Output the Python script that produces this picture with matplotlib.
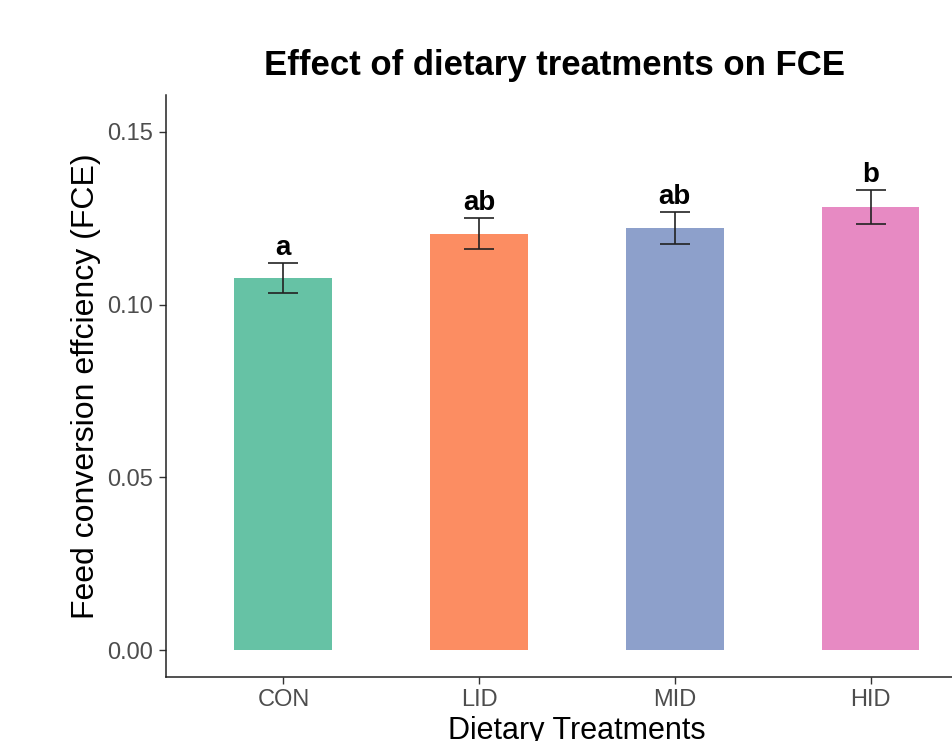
import matplotlib
matplotlib.use("Agg")
import matplotlib.pyplot as plt
import numpy as np

plt.rcParams['font.family'] = ['Liberation Sans', 'DejaVu Sans']

# data
treatments = ["CON", "LID", "MID", "HID"]
fce_mean = [0.1077, 0.1205, 0.1222, 0.1283]
fce_se = [0.0044, 0.0045, 0.0046, 0.0049]
letters = ["a", "ab", "ab", "b"]
colors = ["#66C2A5", "#FC8D62", "#8DA0CB", "#E78AC3"]

fig = plt.figure(figsize=(9.53, 7.41), dpi=100)
ax = fig.add_axes([166/953, 64/741, (988-166)/953, (677-95)/741])

x = np.arange(1, len(treatments) + 1)
ax.bar(x, fce_mean, width=0.5, color=colors, zorder=2)
ax.errorbar(x, fce_mean, yerr=fce_se, fmt='none', ecolor='#222222',
            elinewidth=1.2, capsize=11, capthick=1.2, zorder=3)

for xi, m, s, lab in zip(x, fce_mean, fce_se, letters):
    ax.text(xi, m + s + 0.0006, lab, ha='center', va='bottom',
            fontsize=20, fontweight='bold', color='black')

ax.set_xlim(0.4, 4.6)
ax.set_ylim(-0.0078, 0.1607)
ax.set_xticks(x)
ax.set_xticklabels(treatments)
ax.set_yticks([0.00, 0.05, 0.10, 0.15])
ax.set_yticklabels(["0.00", "0.05", "0.10", "0.15"])

for side in ['top', 'right']:
    ax.spines[side].set_visible(False)
for side in ['left', 'bottom']:
    ax.spines[side].set_linewidth(1.1)
    ax.spines[side].set_color('#222222')

ax.tick_params(axis='both', length=5, width=1.0, color='#333333',
               labelsize=17, labelcolor='#4D4D4D', pad=4)

ax.set_ylabel("Feed conversion effciency (FCE)", fontsize=23, labelpad=5)
# the reference crops this label at the bottom edge too
ax.set_xlabel("Dietary Treatments", fontsize=22, labelpad=3)

fig.text(554/953, 1 - 65/741, "Effect of dietary treatments on FCE",
         ha='center', va='center', fontsize=25, fontweight='bold')

fig.savefig("out.png", dpi=100)
